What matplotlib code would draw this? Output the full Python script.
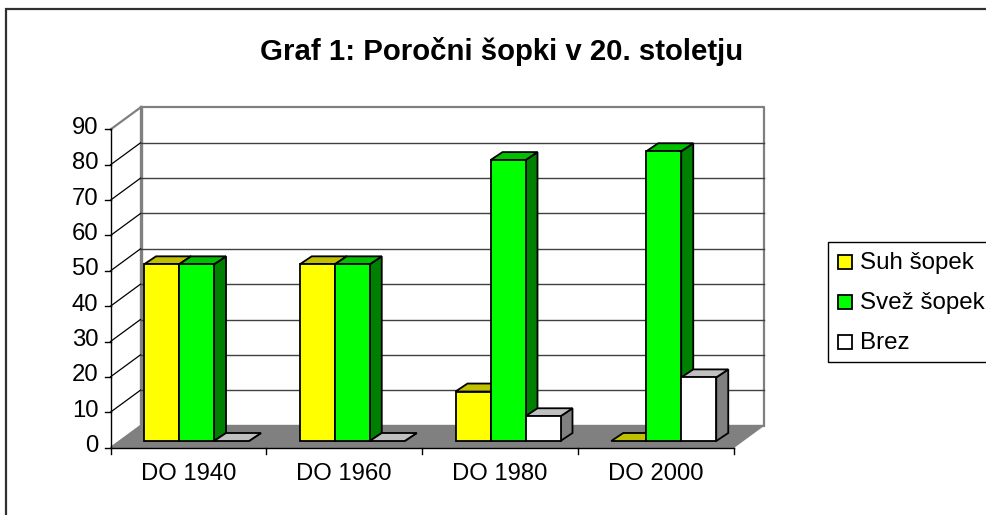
# Graf 1 - porocni sopki, fake 3D columns
import matplotlib
matplotlib.use('Agg')
import matplotlib.pyplot as plt
from matplotlib.lines import Line2D
from matplotlib.patches import Rectangle

categories = ['DO 1940', 'DO 1960', 'DO 1980', 'DO 2000']
suh = [50, 50, 14, 0]
svez = [50, 50, 79.5, 82]
brez = [0, 0, 7, 18]
series_names = ['Suh šopek', 'Svež šopek', 'Brez']
yticks = [0, 10, 20, 30, 40, 50, 60, 70, 80, 90]

plt.rcParams['font.family'] = ['Liberation Sans', 'DejaVu Sans']

W, H = 986, 515
fig = plt.figure(figsize=(W/100, H/100), dpi=100)

# outer frame, only top and left show up
fig.add_artist(Line2D([6/W, 6/W, 1], [0, 1-9/H, 1-9/H], transform=fig.transFigure,
                      color='#303030', lw=1.6, zorder=-1, solid_joinstyle='miter'))

# axes spans the front plane of the chart
x0, x1, y0, y90 = 110.5, 733.5, 447.5, 129.5
ax = fig.add_axes([x0/W, 1-y0/H, (x1-x0)/W, (y0-y90)/H])
ax.set_xlim(0, 4)
ax.set_ylim(0, 90)
ax.patch.set_alpha(0)
for s in ax.spines.values():
    s.set_visible(False)
ax.set_xticks([])
ax.set_yticks([])

xpx = 4/(x1-x0)      # data units per pixel
ypx = 90/(y0-y90)
dx, dy = 30*xpx, 22*ypx      # wall depth
bdx, bdy = 12*xpx, 8*ypx     # bar depth
base = 6.5*ypx               # bar front above the floor
off = 33.5*xpx
bw = 35*xpx
grey = '#808080'

# floor and walls
ax.fill([0, 4, 4+dx, dx], [0, 0, dy, dy], fc=grey, ec=grey, lw=1, clip_on=False, zorder=1)
ax.plot([dx, dx], [dy, 90+dy], color=grey, lw=2.4, clip_on=False, zorder=2)
ax.plot([dx, 4+dx, 4+dx], [90+dy, 90+dy, dy], color=grey, lw=1.6, clip_on=False, zorder=2)
ax.plot([0, dx], [90, 90+dy], color=grey, lw=1.6, clip_on=False, zorder=2)

# gridlines, side wall and back wall
for v in yticks[1:-1]:
    ax.plot([0, dx], [v, v+dy], color='black', lw=0.9, clip_on=False, zorder=2)
    ax.plot([dx, 4+dx], [v+dy, v+dy], color='#404040', lw=1.0, clip_on=False, zorder=2)
ax.plot([0, 0], [0, 90], color='black', lw=1.0, clip_on=False, zorder=3)
ax.plot([0, 4], [0, 0], color='black', lw=1.0, clip_on=False, zorder=3)

# ticks and labels
for v in yticks:
    ax.plot([-6*xpx, 0], [v, v], color='black', lw=1.0, clip_on=False, zorder=3)
    ax.text(-12*xpx, v+1.5*ypx, str(v), ha='right', va='center', fontsize=17.2, color='black')
for i in range(5):
    ax.plot([i, i], [0, -6*ypx], color='black', lw=1.0, clip_on=False, zorder=3)
for i, c in enumerate(categories):
    ax.text(i+0.5, -27*ypx, c, ha='center', va='center', fontsize=17.2, color='black')


def bar3d(x, v, front, top, side, z):
    b = base
    t = base + v
    w = bw
    kw = dict(ec='black', lw=1.3, clip_on=False, zorder=z, joinstyle='miter')
    ax.fill([x+w, x+w+bdx, x+w+bdx, x+w], [b, b+bdy, t+bdy, t], fc=side, **kw)
    ax.fill([x, x+bdx, x+w+bdx, x+w], [t, t+bdy, t+bdy, t], fc=top, **kw)
    if v > 0:
        ax.fill([x, x+w, x+w, x], [b, b, t, t], fc=front, **kw)


series = [(suh, '#FFFF00', '#C0C000', '#808000'),
          (svez, '#00FF00', '#00C000', '#008000'),
          (brez, '#FFFFFF', '#C0C0C0', '#808080')]
for i in range(len(categories)):
    for k, (vals, fc, tc, sc) in enumerate(series):
        bar3d(i+off+k*bw, vals[i], fc, tc, sc, 5+i*3+k)

# legend box in pixels
lx0, ly0, ly1 = 827.5, 241.5, 361.5
fig.add_artist(Rectangle((lx0/W, 1-ly1/H), 1.0, (ly1-ly0)/H, transform=fig.transFigure,
                         fc='white', ec='black', lw=1.0))
for (vals, fc, tc, sc), name, yy in zip(series, series_names, [262, 302, 342]):
    fig.add_artist(Rectangle((837.5/W, 1-(yy+7)/H), 14/W, 14/H, transform=fig.transFigure,
                             fc=fc, ec='black', lw=1.3))
    fig.text(859.5/W, 1-(yy+1)/H, name, ha='left', va='center', fontsize=17.4, color='black')

fig.text(502/W, 1-52/H, 'Graf 1: Poročni šopki v 20. stoletju', ha='center', va='center',
         fontsize=21.2, fontweight='bold', color='black')

fig.savefig('out.png', dpi=100)
